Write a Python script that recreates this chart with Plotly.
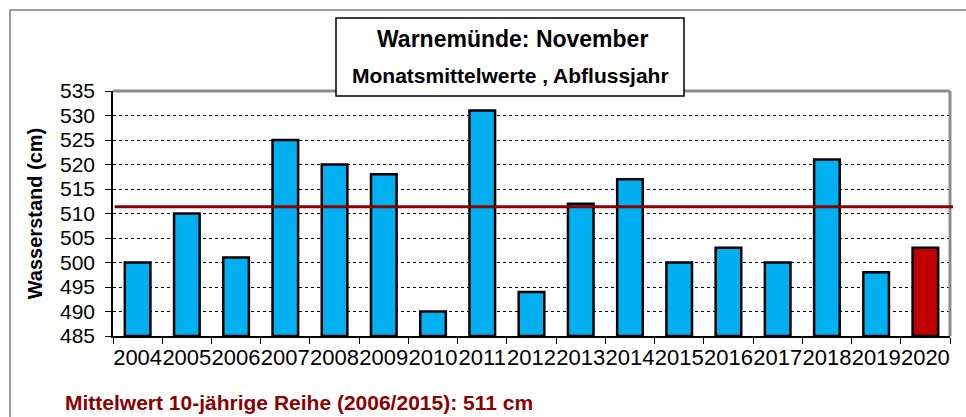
import plotly.graph_objects as go

years = ["2004", "2005", "2006", "2007", "2008", "2009", "2010", "2011", "2012",
         "2013", "2014", "2015", "2016", "2017", "2018", "2019", "2020"]
values = [500, 510, 501, 525, 520, 518, 490, 531, 494, 512, 517, 500, 503, 500, 521, 498, 503]
mean_value = 511.4
title_text = "Warnemünde: November"
subtitle_text = "Monatsmittelwerte , Abflussjahr"
yaxis_title = "Wasserstand (cm)"
footer_text = "Mittelwert 10-jährige Reihe (2006/2015): 511 cm"

colors = ["#00B0F0"] * (len(years) - 1) + ["#C00000"]

W, H = 966, 417
L, R, T, B = 113, 950, 91, 336
pw, ph = R - L, B - T

def px(x):
    return (x - L) / pw

def py(y):
    return (B - y) / ph

fig = go.Figure()
fig.add_trace(go.Bar(
    x=years, y=[v - 485 for v in values], base=485,
    marker=dict(color=colors, line=dict(color="black", width=2.5)),
    width=0.52, hoverinfo="skip",
))

FONT = "Liberation Sans, Arial, sans-serif"

fig.update_layout(
    width=W, height=H,
    margin=dict(l=L, r=W - R, t=T, b=H - B, pad=0),
    paper_bgcolor="white", plot_bgcolor="white",
    showlegend=False,
    font=dict(family=FONT, color="black"),
    xaxis=dict(
        type="category", tickson="boundaries", ticks="outside", ticklen=6,
        tickcolor="black", tickwidth=1, showgrid=False, showline=True,
        linecolor="black", linewidth=1.5, tickangle=0, automargin=False,
        tickfont=dict(size=22, family=FONT), ticklabelstandoff=1,
    ),
    yaxis=dict(
        range=[485, 535], dtick=5, tick0=485, ticks="outside", ticklen=6,
        tickcolor="black", showline=True, linecolor="black", linewidth=1.5,
        showgrid=True, gridcolor="black", griddash="dot", gridwidth=1,
        tickfont=dict(size=21, family=FONT), zeroline=False, automargin=False,
        ticklabelstandoff=6,
        title=dict(text="<b>" + yaxis_title + "</b>", font=dict(size=20, family=FONT), standoff=12),
    ),
)

shapes = [
    # outer frame
    dict(type="rect", xref="paper", yref="paper", x0=px(10), x1=px(975), y0=py(425), y1=py(10),
         line=dict(color="#7F7F7F", width=1.5), fillcolor="rgba(0,0,0,0)", layer="below"),
    # top and right border of plot area
    dict(type="line", xref="paper", yref="paper", x0=0, x1=1, y0=1, y1=1,
         line=dict(color="#8C8C8C", width=3)),
    dict(type="line", xref="paper", yref="paper", x0=1, x1=1, y0=0, y1=1,
         line=dict(color="#8C8C8C", width=3)),
    # mean line
    dict(type="line", xref="paper", yref="y", x0=0.002, x1=px(953), y0=mean_value, y1=mean_value,
         line=dict(color="#8B0000", width=3)),
    # title box
    dict(type="rect", xref="paper", yref="paper", x0=px(336), x1=px(684), y0=py(96), y1=py(18),
         line=dict(color="black", width=1.5), fillcolor="white"),
]
fig.update_layout(shapes=shapes)

fig.add_annotation(text="<b>" + title_text + "</b>", xref="paper", yref="paper",
                   x=px(512), y=py(39), showarrow=False, xanchor="center", yanchor="middle",
                   font=dict(size=23, family=FONT, color="black"))
fig.add_annotation(text="<b>" + subtitle_text + "</b>", xref="paper", yref="paper",
                   x=px(510), y=py(75), showarrow=False, xanchor="center", yanchor="middle",
                   font=dict(size=21, family=FONT, color="black"))
fig.add_annotation(text="<b>" + footer_text + "</b>", xref="paper", yref="paper",
                   x=px(63), y=py(402), showarrow=False, xanchor="left", yanchor="middle",
                   font=dict(size=21, family=FONT, color="#8B0000"))

fig.write_html("out.html", config={"displayModeBar": False},
               post_script="document.body.style.margin='0';")
